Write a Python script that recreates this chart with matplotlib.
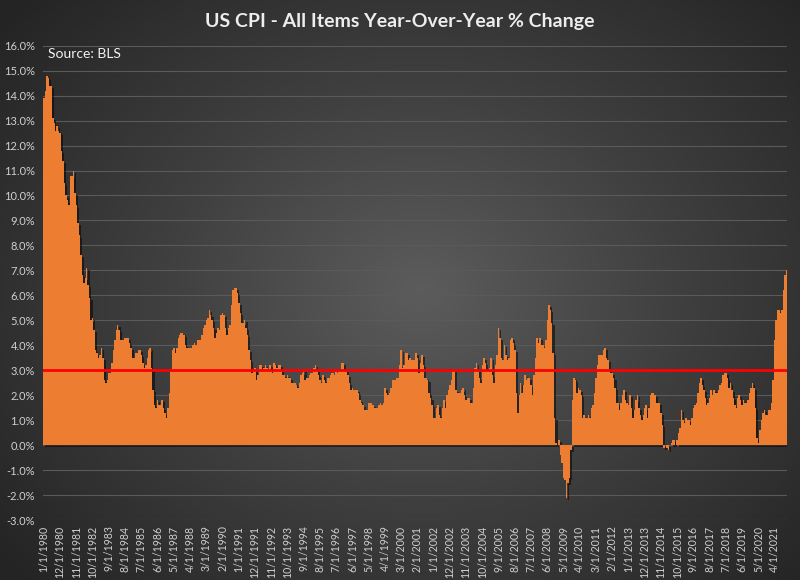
import numpy as np
import matplotlib.pyplot as plt
import matplotlib.patheffects as path_effects
from matplotlib.colors import LinearSegmentedColormap

# monthly CPI-U year-over-year % change, 1/1980 .. 12/2021
cpi_yoy = [
    13.9, 14.2, 14.8, 14.7, 14.4, 14.4, 13.1, 12.9, 12.6, 12.8, 12.6, 12.5,
    11.8, 11.4, 10.5, 10.0, 9.8, 9.6, 10.8, 10.8, 11.0, 10.1, 9.6, 8.9,
    8.4, 7.6, 6.8, 6.5, 6.7, 7.1, 6.4, 5.9, 5.0, 5.1, 4.6, 3.8,
    3.7, 3.5, 3.6, 3.9, 3.5, 2.6, 2.5, 2.6, 2.9, 2.9, 3.3, 3.8,
    4.2, 4.6, 4.8, 4.6, 4.2, 4.2, 4.2, 4.3, 4.3, 4.3, 4.1, 3.9,
    3.5, 3.5, 3.7, 3.7, 3.8, 3.8, 3.6, 3.3, 3.1, 3.2, 3.5, 3.8,
    3.9, 3.1, 2.2, 1.6, 1.5, 1.8, 1.6, 1.6, 1.8, 1.5, 1.3, 1.1,
    1.5, 2.1, 3.0, 3.8, 3.9, 3.7, 3.9, 4.3, 4.4, 4.5, 4.5, 4.4,
    4.0, 3.9, 3.9, 3.9, 3.9, 4.0, 4.1, 4.0, 4.2, 4.2, 4.2, 4.4,
    4.7, 4.8, 5.0, 5.1, 5.4, 5.2, 5.0, 4.7, 4.3, 4.5, 4.7, 4.6,
    5.2, 5.3, 5.2, 4.7, 4.4, 4.7, 4.8, 5.6, 6.2, 6.3, 6.3, 6.1,
    5.7, 5.3, 4.9, 4.9, 5.0, 4.7, 4.4, 3.8, 3.4, 2.9, 3.0, 3.1,
    2.6, 2.8, 3.2, 3.2, 3.0, 3.1, 3.2, 3.1, 3.0, 3.2, 3.0, 2.9,
    3.3, 3.2, 3.1, 3.2, 3.2, 3.0, 2.8, 2.8, 2.7, 2.8, 2.7, 2.7,
    2.5, 2.5, 2.5, 2.4, 2.3, 2.5, 2.8, 2.9, 3.0, 2.6, 2.7, 2.7,
    2.8, 2.9, 2.9, 3.1, 3.2, 3.0, 2.8, 2.6, 2.5, 2.8, 2.6, 2.5,
    2.7, 2.7, 2.8, 2.9, 2.9, 2.8, 3.0, 2.9, 3.0, 3.0, 3.3, 3.3,
    3.0, 3.0, 2.8, 2.5, 2.2, 2.3, 2.2, 2.2, 2.2, 2.1, 1.8, 1.7,
    1.6, 1.4, 1.4, 1.4, 1.7, 1.7, 1.7, 1.6, 1.5, 1.5, 1.5, 1.6,
    1.7, 1.6, 1.7, 2.3, 2.1, 2.0, 2.1, 2.3, 2.6, 2.6, 2.6, 2.7,
    2.7, 3.2, 3.8, 3.1, 3.2, 3.7, 3.7, 3.4, 3.5, 3.4, 3.4, 3.4,
    3.7, 3.5, 2.9, 3.3, 3.6, 3.2, 2.7, 2.7, 2.6, 2.1, 1.9, 1.6,
    1.1, 1.1, 1.5, 1.6, 1.2, 1.1, 1.5, 1.8, 1.5, 2.0, 2.2, 2.4,
    2.6, 3.0, 3.0, 2.2, 2.1, 2.1, 2.1, 2.2, 2.3, 2.0, 1.8, 1.9,
    1.9, 1.7, 1.7, 2.3, 3.1, 3.3, 3.0, 2.7, 2.5, 3.2, 3.5, 3.3,
    3.0, 3.0, 3.1, 3.5, 2.8, 2.5, 3.2, 3.6, 4.7, 4.3, 3.5, 3.4,
    4.0, 3.6, 3.4, 3.5, 4.2, 4.3, 4.1, 3.8, 2.1, 1.3, 2.0, 2.5,
    2.1, 2.4, 2.8, 2.6, 2.7, 2.7, 2.4, 2.0, 2.8, 3.5, 4.3, 4.1,
    4.3, 4.0, 4.0, 3.9, 4.2, 5.0, 5.6, 5.4, 4.9, 3.7, 1.1, 0.1,
    0.0, 0.2, -0.4, -0.7, -1.3, -1.4, -2.1, -1.5, -1.3, -0.2, 1.8, 2.7,
    2.6, 2.1, 2.3, 2.2, 2.0, 1.1, 1.2, 1.1, 1.1, 1.2, 1.1, 1.5,
    1.6, 2.1, 2.7, 3.2, 3.6, 3.6, 3.6, 3.8, 3.9, 3.5, 3.4, 3.0,
    2.9, 2.9, 2.7, 2.3, 1.7, 1.7, 1.4, 1.7, 2.0, 2.2, 1.8, 1.7,
    1.6, 2.0, 1.5, 1.1, 1.4, 1.8, 2.0, 1.5, 1.2, 1.0, 1.2, 1.5,
    1.6, 1.1, 1.5, 2.0, 2.1, 2.1, 2.0, 1.7, 1.7, 1.7, 1.3, 0.8,
    -0.1, 0.0, -0.1, -0.2, 0.0, 0.1, 0.2, 0.2, 0.0, 0.2, 0.5, 0.7,
    1.4, 1.0, 0.9, 1.1, 1.0, 1.0, 0.8, 1.1, 1.5, 1.6, 1.7, 2.1,
    2.5, 2.7, 2.4, 2.2, 1.9, 1.6, 1.7, 1.9, 2.2, 2.0, 2.2, 2.1,
    2.1, 2.2, 2.4, 2.5, 2.8, 2.9, 2.9, 2.7, 2.3, 2.5, 2.2, 1.9,
    1.6, 1.5, 1.9, 2.0, 1.8, 1.6, 1.8, 1.7, 1.7, 1.8, 2.1, 2.3,
    2.5, 2.3, 1.5, 0.3, 0.1, 0.6, 1.0, 1.3, 1.4, 1.2, 1.2, 1.4,
    1.4, 1.7, 2.6, 4.2, 5.0, 5.4, 5.4, 5.3, 5.4, 6.2, 6.8, 7.0,
]
start_year = 1980
ref_level = 3.0
label_step = 11

months = [f"{m}/1/{start_year + y}" for y in range(len(cpi_yoy) // 12) for m in range(1, 13)]

fig = plt.figure(figsize=(8, 5.8), dpi=100)

# radial gradient background
bg = fig.add_axes([0, 0, 1, 1], zorder=-10)
yy, xx = np.mgrid[0:580, 0:800]
r = np.sqrt(((xx - 420) / 540.0) ** 2 + ((yy - 290) / 430.0) ** 2)
cmap = LinearSegmentedColormap.from_list('bg', ['#5c5c5c', '#3e3e3e', '#242424'])
bg.imshow(np.clip(r, 0, 1), cmap=cmap, vmin=0, vmax=1, aspect='auto')
bg.axis('off')

ax = fig.add_axes([0.054, 0.1034, 0.93, 0.8178])
ax.set_facecolor('none')

x = np.arange(len(cpi_yoy))
edges = np.arange(len(cpi_yoy) + 1) - 0.5
ax.stairs(cpi_yoy, edges, baseline=0, fill=True, color='#ED7D31', zorder=2,
          path_effects=[path_effects.SimplePatchShadow(offset=(1.5, -1.5), shadow_rgbFace='black', alpha=0.5),
                        path_effects.Normal()])
ax.axhline(ref_level, color='#ff0000', lw=2, zorder=3)

ax.set_xlim(-0.5, len(cpi_yoy) - 0.5)
ax.set_ylim(-3, 16)
ax.set_yticks(np.arange(-3, 17, 1))
ax.set_yticklabels([f"{v:.1f}%" for v in np.arange(-3, 17, 1)])
ax.set_xticks(x[::label_step])
ax.set_xticklabels(months[::label_step], rotation=90)
ax.grid(axis='y', color='#5a5a5a', lw=0.8, zorder=0)
ax.set_axisbelow(True)
for s in ax.spines.values():
    s.set_visible(False)
ax.tick_params(length=0, colors='#d0d0d0')
ax.tick_params(axis='x', labelsize=7.6, pad=4)
ax.tick_params(axis='y', labelsize=8, pad=6)
for lab in ax.get_xticklabels() + ax.get_yticklabels():
    lab.set_family('Lato')

fig.text(0.5, 0.963, 'US CPI - All Items Year-Over-Year % Change', ha='center', va='center',
         color='#ededed', fontsize=14, fontweight='bold', family='Lato')
ax.text(0.006, 0.982, 'Source: BLS', transform=ax.transAxes, ha='left', va='center',
        color='#f2f2f2', fontsize=10, family='Lato')

fig.savefig('out.png', dpi=100)
